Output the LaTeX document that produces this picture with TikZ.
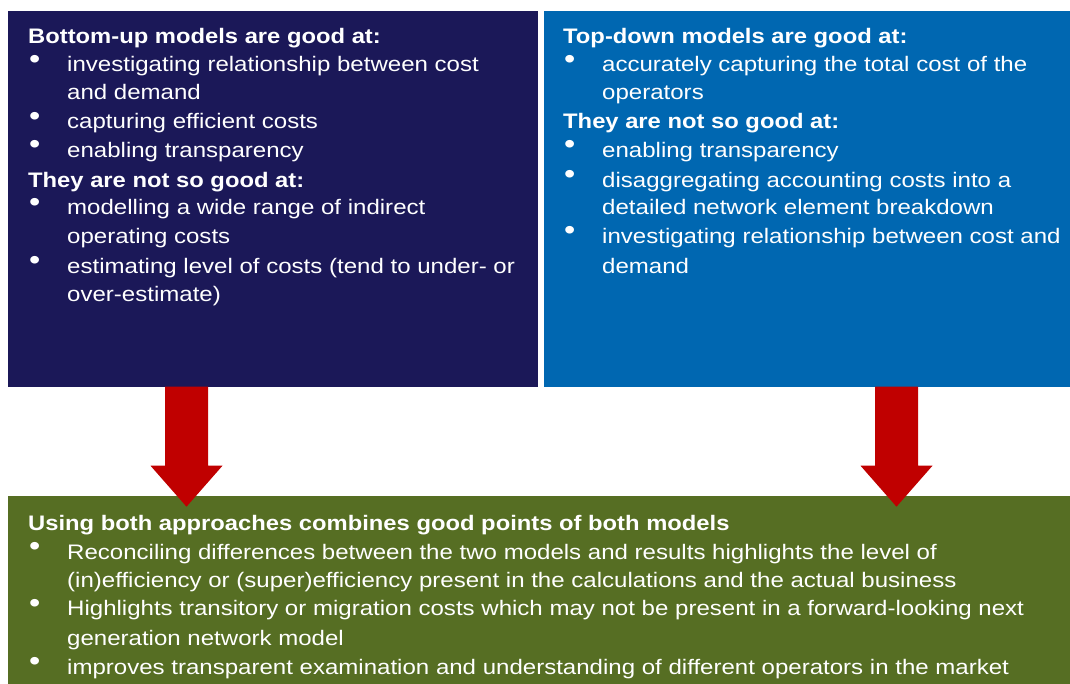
\documentclass[tikz,border=0pt]{standalone}
\usepackage{fontspec}
\setmainfont{Liberation Sans}[FakeStretch=1.145,BoldFeatures={FakeStretch=1.132}]
\usetikzlibrary{calc}
\definecolor{navybox}{RGB}{27,24,88}
\definecolor{bluebox}{RGB}{0,103,177}
\definecolor{greenbox}{RGB}{86,110,35}
\definecolor{arrowred}{RGB}{192,0,0}
\newcommand\bulletmark{\raisebox{3.5pt}[14pt][0pt]{\fontsize{28}{28}\selectfont •}}
\begin{document}
\begin{tikzpicture}[x=1pt,y=-1pt,
  panel/.style={anchor=north west,inner sep=0,outer sep=0,draw=none},
  txt/.style={anchor=base west,inner sep=0,text=white,font=\fontsize{21}{25}\selectfont},
  hd/.style={txt,font=\fontsize{21}{25}\selectfont\bfseries},
  bul/.style={txt},
  blockarrow/.style={fill=arrowred}]
\useasboundingbox (0,0) rectangle (1070,684);
\fill[white] (0,0) rectangle (1070,684);
% panels
\node[panel,fill=navybox,minimum width=530pt,minimum height=376pt] (bu) at (8,11) {};
\node[panel,fill=bluebox,minimum width=526pt,minimum height=376pt] (td) at (544,11) {};
\node[panel,fill=greenbox,minimum width=1062pt,minimum height=188pt] (both) at (8,496) {};
% left panel text
\node[hd] (bu1) at (28,43.3) {Bottom-up models are good at:};
\node[bul] (bub1) at (29,71.7) {\bulletmark};
\node[txt] (bu2) at (67,71.7) {investigating relationship between cost};
\node[txt] (bu3) at (67,99.3) {and demand};
\node[bul] (bub2) at (29,129) {\bulletmark};
\node[txt] (bu4) at (67,129) {capturing efficient costs};
\node[bul] (bub3) at (29,157.3) {\bulletmark};
\node[txt] (bu5) at (67,157.3) {enabling transparency};
\node[hd] (bu6) at (28,187.3) {They are not so good at:};
\node[bul] (bub4) at (29,215) {\bulletmark};
\node[txt] (bu7) at (67,215) {modelling a wide range of indirect};
\node[txt] (bu8) at (67,243.3) {operating costs};
\node[bul] (bub5) at (29,273.3) {\bulletmark};
\node[txt] (bu9) at (67,273.3) {estimating level of costs (tend to under- or};
\node[txt] (bu10) at (67,301.7) {over-estimate)};
% right panel text
\node[hd] (td1) at (563,43.3) {Top-down models are good at:};
\node[bul] (tdb1) at (564,71.7) {\bulletmark};
\node[txt] (td2) at (602,71.7) {accurately capturing the total cost of the};
\node[txt] (td3) at (602,99.3) {operators};
\node[hd] (td4) at (563,129) {They are not so good at:};
\node[bul] (tdb2) at (564,157.3) {\bulletmark};
\node[txt] (td5) at (602,157.3) {enabling transparency};
\node[bul] (tdb3) at (564,187.3) {\bulletmark};
\node[txt] (td6) at (602,187.3) {disaggregating accounting costs into a};
\node[txt] (td7) at (602,215) {detailed network element breakdown};
\node[bul] (tdb4) at (564,243.3) {\bulletmark};
\node[txt] (td8) at (602,243.3) {investigating relationship between cost and};
\node[txt] (td9) at (602,273.3) {demand};
% bottom panel text
\node[hd] (bo1) at (28,530.7) {Using both approaches combines good points of both models};
\node[bul] (bob1) at (29,559) {\bulletmark};
\node[txt] (bo2) at (67,559) {Reconciling differences between the two models and results highlights the level of};
\node[txt] (bo3) at (67,587.3) {(in)efficiency or (super)efficiency present in the calculations and the actual business};
\node[bul] (bob2) at (29,615.7) {\bulletmark};
\node[txt] (bo4) at (67,615.7) {Highlights transitory or migration costs which may not be present in a forward-looking next};
\node[txt] (bo5) at (67,645.7) {generation network model};
\node[bul] (bob3) at (29,674) {\bulletmark};
\node[txt] (bo6) at (67,674) {improves transparent examination and understanding of different operators in the market};
% block arrows
\coordinate (a1s) at (186.5,386.7);
\coordinate (a1t) at (186.5,506.7);
\coordinate (a2s) at (896.5,386.7);
\coordinate (a2t) at (896.5,506.7);
\foreach \s/\t in {a1s/a1t,a2s/a2t}{
  \fill[blockarrow] ($(\s)+(-21.5,0)$) -- ($(\t)+(-21.5,-41)$) -- ($(\t)+(-36,-41)$) -- (\t)
    -- ($(\t)+(36,-41)$) -- ($(\t)+(21.5,-41)$) -- ($(\s)+(21.5,0)$) -- cycle;
}
\end{tikzpicture}
\end{document}
